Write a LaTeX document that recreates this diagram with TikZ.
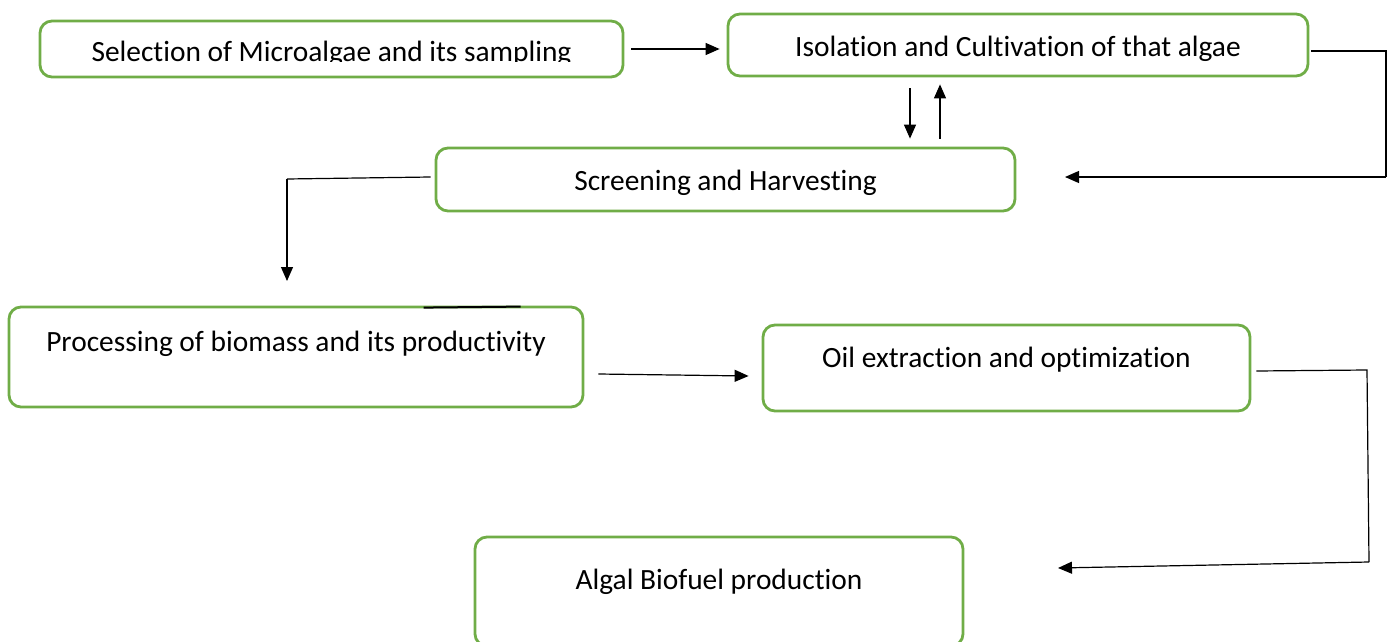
\documentclass[tikz,border=0pt]{standalone}
\usepackage{fontspec}
\setmainfont{Carlito}[Ligatures=NoCommon]
\usetikzlibrary{arrows.meta}
\definecolor{boxgreen}{RGB}{112,173,71}

\begin{document}
\begin{tikzpicture}[x=0.5pt, y=-0.5pt,
    stagebox/.style={draw=boxgreen, line width=1.4pt, rounded corners=6pt,
      font=\fontsize{14.7}{17}\selectfont, inner sep=0pt,
      text height=9.5pt, text depth=0pt},
    lift/.style={text depth=#1},
    drop/.style={text height=#1},
    conn/.style={black, line width=0.6pt},
    arr/.style={conn, -{Triangle[length=7pt, width=6pt]}}]
    \useasboundingbox (0,0) rectangle (1392,642);
    % stages
    \node[stagebox, drop=12.5pt, minimum width=291.5pt, minimum height=28pt] (sel) at (331.5,49) {Selection of Microalgae and its sampling};
    \fill[white] (60,62) rectangle (600,73);
    \node[stagebox, drop=11.5pt, minimum width=290pt, minimum height=31pt] (iso) at (1018,45) {Isolation and Cultivation of that algae};
    \node[stagebox, drop=11pt, minimum width=289.5pt, minimum height=31.5pt] (scr) at (725.5,179.5) {Screening and Harvesting};
    \node[stagebox, lift=15pt, minimum width=287pt, minimum height=50pt] (proc) at (296,357) {Processing of biomass and its productivity};
    \node[stagebox, lift=10pt, minimum width=243.5pt, minimum height=43pt] (oil) at (1006.5,368) {Oil extraction and optimization};
    \node[stagebox, lift=11.5pt, minimum width=244pt, minimum height=54.5pt] (bio) at (719,591.5) {Algal Biofuel production};
    % free ends and bends
    \coordinate (isoTurn) at (1386,51);
    \coordinate (isoDown) at (1386,177);
    \coordinate (scrIn) at (1065,177);
    \coordinate (scrTurn) at (287,179);
    \coordinate (procIn) at (287,281);
    \coordinate (oilTurn) at (1367,370);
    \coordinate (oilDown) at (1369,562);
    \coordinate (bioIn) at (1058,568);
    % connectors
    \draw[arr] ([xshift=3.5pt]sel.east) -- ([xshift=-3.5pt]iso.west |- sel.east);
    \draw[conn] ([xshift=1pt,yshift=-3pt]iso.east) -- (isoTurn) -- (isoDown);
    \draw[arr] (isoDown) -- (scrIn);
    \draw[arr] ([xshift=-54pt,yshift=-5.5pt]iso.south) -- ([xshift=-54pt,yshift=4pt]iso.south |- scr.north);
    \draw[arr] ([xshift=-39pt,yshift=4pt]iso.south |- scr.north) -- ([xshift=-39pt,yshift=-3.5pt]iso.south);
    \draw[conn] ([xshift=-2pt,yshift=1.25pt]scr.west) -- (scrTurn);
    \draw[arr] (scrTurn) -- (procIn);
    \draw[black, line width=1pt] ([xshift=-5.5pt,yshift=-1pt]proc.north east -| scr.west) -- ([xshift=43pt,yshift=-0.5pt]proc.north east -| scr.west);
    \draw[arr] ([xshift=7pt,yshift=-8.5pt]proc.east) -- ([xshift=-6.5pt,yshift=-4pt]oil.west);
    \draw[conn] ([xshift=2.5pt,yshift=-1.5pt]oil.east) -- (oilTurn) -- (oilDown);
    \draw[arr] (oilDown) -- (bioIn);
\end{tikzpicture}
\end{document}
